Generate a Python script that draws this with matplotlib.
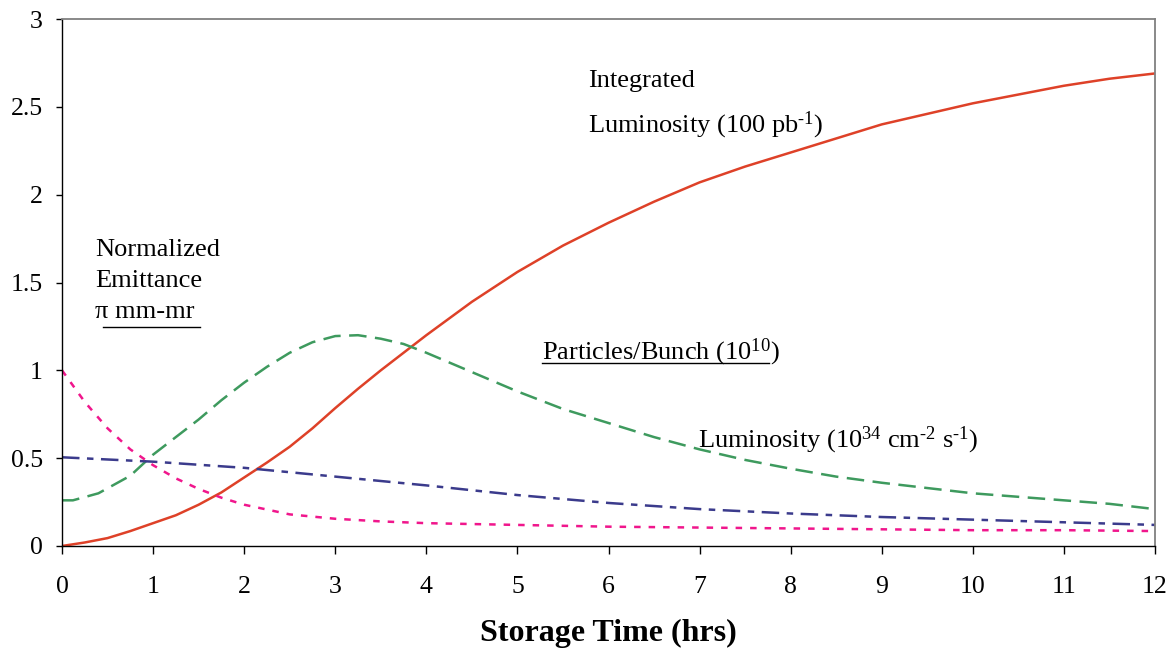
import matplotlib
matplotlib.use("Agg")
import matplotlib.pyplot as plt

plt.rcParams['font.family'] = ['Liberation Serif', 'DejaVu Serif']
plt.rcParams['mathtext.fontset'] = 'custom'
plt.rcParams['mathtext.rm'] = 'Liberation Serif'
plt.rcParams['mathtext.it'] = 'Liberation Serif:italic'
plt.rcParams['mathtext.bf'] = 'Liberation Serif:bold'

# Integrated luminosity (100 pb^-1)
int_lumi_x = [0, 0.25, 0.5, 0.75, 1, 1.25, 1.5, 1.75, 2, 2.25, 2.5, 2.75, 3, 3.25,
              3.5, 3.75, 4, 4.5, 5, 5.5, 6, 6.5, 7, 7.5, 8, 8.5, 9, 9.5, 10, 10.5,
              11, 11.5, 12]
int_lumi_y = [0, 0.02, 0.045, 0.085, 0.13, 0.175, 0.235, 0.305, 0.39, 0.475, 0.565,
              0.67, 0.785, 0.895, 1.0, 1.1, 1.2, 1.39, 1.56, 1.71, 1.84, 1.96, 2.07,
              2.16, 2.24, 2.32, 2.40, 2.46, 2.52, 2.57, 2.62, 2.66, 2.69]

# Particles/Bunch (10^10)
particles_x = [0, 0.12, 0.4, 0.75, 1, 1.25, 1.5, 1.75, 2, 2.25, 2.5, 2.75, 3, 3.25,
               3.5, 3.75, 4, 4.5, 5, 5.5, 6, 6.5, 7, 7.5, 8, 8.5, 9, 9.5, 10, 10.5,
               11, 11.5, 12]
particles_y = [0.26, 0.26, 0.30, 0.40, 0.52, 0.62, 0.72, 0.83, 0.93, 1.02, 1.10, 1.16,
               1.195, 1.20, 1.18, 1.15, 1.10, 0.99, 0.88, 0.78, 0.70, 0.62, 0.55, 0.49,
               0.44, 0.395, 0.36, 0.33, 0.30, 0.28, 0.26, 0.24, 0.21]

# Luminosity (10^34 cm^-2 s^-1)
lumi_x = [0, 1, 2, 3, 4, 5, 6, 7, 8, 9, 10, 11, 12]
lumi_y = [0.505, 0.48, 0.445, 0.395, 0.345, 0.29, 0.245, 0.21, 0.185, 0.165, 0.15,
          0.135, 0.12]

# Normalized emittance (pi mm-mr)
emit_x = [0, 0.25, 0.5, 0.75, 1, 1.25, 1.5, 1.75, 2, 2.5, 3, 3.5, 4, 5, 6, 7, 8, 9,
          10, 11, 12]
emit_y = [1.0, 0.82, 0.67, 0.55, 0.46, 0.385, 0.325, 0.275, 0.235, 0.18, 0.155, 0.14,
          0.13, 0.12, 0.11, 0.105, 0.1, 0.095, 0.09, 0.09, 0.085]

x_ticks = list(range(0, 13))
y_ticks = [0, 0.5, 1, 1.5, 2, 2.5, 3]
y_tick_labels = ['0', '0.5', '1', '1.5', '2', '2.5', '3']

fig = plt.figure(figsize=(11.73, 6.56), dpi=100)
ax = fig.add_axes([62 / 1173, 1 - 546 / 656, (1155 - 62) / 1173, (546 - 19) / 656])

lw = 1.8
ax.plot(int_lumi_x, int_lumi_y, color='#DE4128', lw=lw, solid_capstyle='butt')
ax.plot(particles_x, particles_y, color='#3E9A5E', lw=lw, dashes=(7, 3.4))
ax.plot(lumi_x, lumi_y, color='#3B3B8C', lw=lw, dashes=(7, 3, 2.6, 3))
ax.plot(emit_x, emit_y, color='#F0168C', lw=lw, dashes=(2.6, 3.2))

ax.set_xlim(0, 12)
ax.set_ylim(0, 3)
ax.set_xticks(x_ticks)
ax.set_xticklabels([str(t) for t in x_ticks])
ax.set_yticks(y_ticks)
ax.set_yticklabels(y_tick_labels)
ax.tick_params(axis='x', direction='out', length=6, width=1, pad=15.5, labelsize=18.5)
ax.tick_params(axis='y', direction='out', length=4.3, width=1, pad=9.5, labelsize=18.5)

for s in ['left', 'bottom']:
    ax.spines[s].set_color('black')
    ax.spines[s].set_linewidth(1.0)
for s in ['top', 'right']:
    ax.spines[s].set_color('#808080')
    ax.spines[s].set_linewidth(1.3)

ax.set_xlabel('Storage Time (hrs)', fontsize=23, fontweight='bold', labelpad=15)

fs = 19
ax.text(5.775, 2.612, 'Integrated', fontsize=fs, va='baseline', ha='left')
ax.text(5.775, 2.356, 'Luminosity (100 pb$^{\\text{-1}}$)', fontsize=fs,
        va='baseline', ha='left')
ax.text(0.362, 1.650, 'Normalized', fontsize=fs, va='baseline', ha='left')
ax.text(0.362, 1.474, 'Emittance', fontsize=fs, va='baseline', ha='left')
ax.text(0.362, 1.298, 'π mm-mr', fontsize=fs, va='baseline', ha='left')
ax.plot([0.45, 1.51], [1.246, 1.246], color='black', lw=1.0)
ax.text(5.27, 1.064, 'Particles/Bunch (10$^{\\text{10}}$)', fontsize=fs,
        va='baseline', ha='left')
ax.plot([5.27, 7.76], [1.04, 1.04], color='black', lw=1.0)
ax.text(6.98, 0.558,
        'Luminosity (10$^{\\text{34}}$ cm$^{\\text{-2}}$ s$^{\\text{-1}}$)',
        fontsize=fs, va='baseline', ha='left')

fig.savefig('out.png', dpi=100)
